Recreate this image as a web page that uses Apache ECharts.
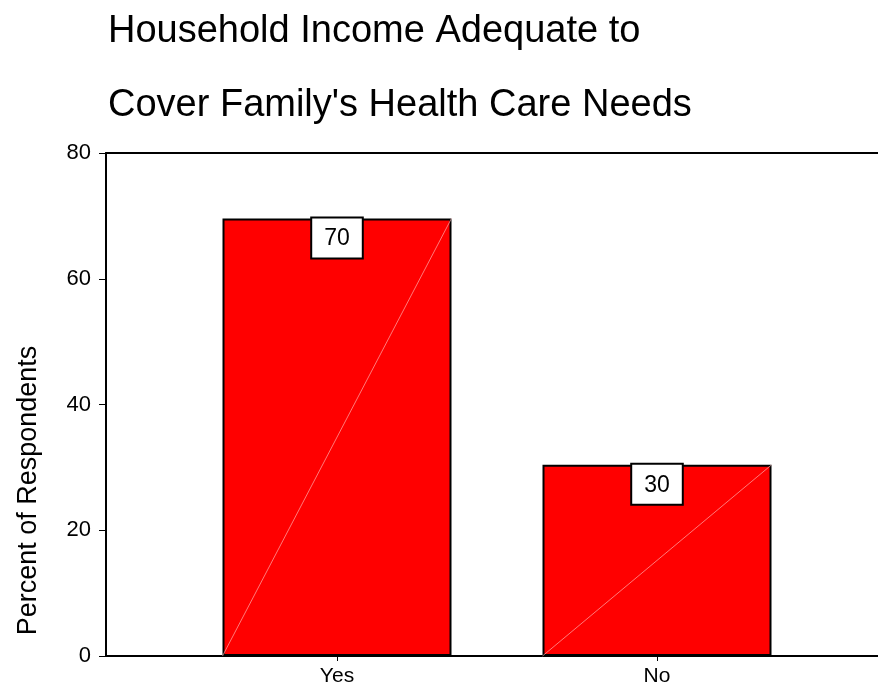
<!DOCTYPE html>
<html>
<head>
<meta charset="utf-8">
<script src="https://cdn.jsdelivr.net/npm/echarts@6/dist/echarts.min.js"></script>
<style>
html,body{margin:0;padding:0;background:#fff;}
#main{width:878px;height:690px;}
</style>
</head>
<body>
<div id="main"></div>
<script>
var categories = ['Yes', 'No'];
var percents = [69.6, 30.4];
var shownLabels = ['70', '30'];
var yTicks = [0, 20, 40, 60, 80];

var FONT = 'Liberation Sans, Arial, sans-serif';
var chart = echarts.init(document.getElementById('main'));

var option = {
    backgroundColor: '#fff',
    animation: false,
    title: {
        text: 'Household Income Adequate to\nCover Family\'s Health Care Needs',
        left: 103,
        top: -10,
        textStyle: {fontFamily: FONT, fontSize: 38, fontWeight: 'normal', color: '#000', lineHeight: 74}
    },
    grid: [
        {left: 106, right: 0, top: 153, bottom: 34},
        {left: 177, right: 61, top: 153, bottom: 34}
    ],
    xAxis: [
        {
            gridIndex: 0, type: 'value', min: 0, max: 1,
            axisLine: {show: true, lineStyle: {color: '#000', width: 2}},
            axisTick: {show: false}, axisLabel: {show: false}, splitLine: {show: false}
        },
        {
            gridIndex: 0, type: 'value', min: 0, max: 1, position: 'top',
            axisLine: {show: true, lineStyle: {color: '#000', width: 2}},
            axisTick: {show: false}, axisLabel: {show: false}, splitLine: {show: false}
        },
        {
            gridIndex: 1, type: 'category', data: categories,
            axisLine: {show: false},
            axisTick: {show: true, alignWithLabel: true, length: 5, lineStyle: {color: '#000', width: 1}},
            axisLabel: {fontFamily: FONT, fontSize: 21, color: '#000', margin: 10}
        }
    ],
    yAxis: [
        {
            gridIndex: 0, type: 'value', min: 0, max: 80, interval: 20,
            name: 'Percent of Respondents', nameLocation: 'middle', nameGap: 64,
            nameTextStyle: {fontFamily: FONT, fontSize: 27, color: '#000', padding: [0, 172, 0, 0]},
            axisLine: {show: true, lineStyle: {color: '#000', width: 2}},
            axisTick: {show: true, length: 7, lineStyle: {color: '#000', width: 1}},
            axisLabel: {fontFamily: FONT, fontSize: 22, color: '#000', margin: 15,
                formatter: function (v) { return yTicks.indexOf(v) >= 0 ? String(v) : ''; }},
            splitLine: {show: false}
        },
        {
            gridIndex: 1, type: 'value', min: 0, max: 80, show: false
        }
    ],
    series: [
        {
            type: 'bar',
            xAxisIndex: 2, yAxisIndex: 1,
            data: percents,
            barWidth: 229,
            itemStyle: {color: '#ff0000', borderColor: '#000', borderWidth: 2},
            label: {
                show: true, position: 'insideTop', distance: 0,
                formatter: function (p) { return shownLabels[p.dataIndex]; },
                fontFamily: FONT, fontSize: 23, lineHeight: 23, color: '#000',
                backgroundColor: '#fff', borderColor: '#000', borderWidth: 2,
                padding: [9, 12, 7, 12]
            }
        },
        {
            // faint diagonal through each bar
            type: 'custom',
            xAxisIndex: 2, yAxisIndex: 1,
            data: percents.map(function (v, i) { return [i, v]; }),
            renderItem: function (params, api) {
                var base = api.coord([api.value(0), 0]);
                var top = api.coord([api.value(0), api.value(1)]);
                var half = 229 / 2;
                return {
                    type: 'line',
                    shape: {x1: base[0] - half, y1: base[1], x2: top[0] + half, y2: top[1]},
                    style: {stroke: 'rgba(255,190,190,0.8)', lineWidth: 0.8}
                };
            },
            z: 3
        }
    ]
};
chart.setOption(option);
</script>
</body>
</html>
